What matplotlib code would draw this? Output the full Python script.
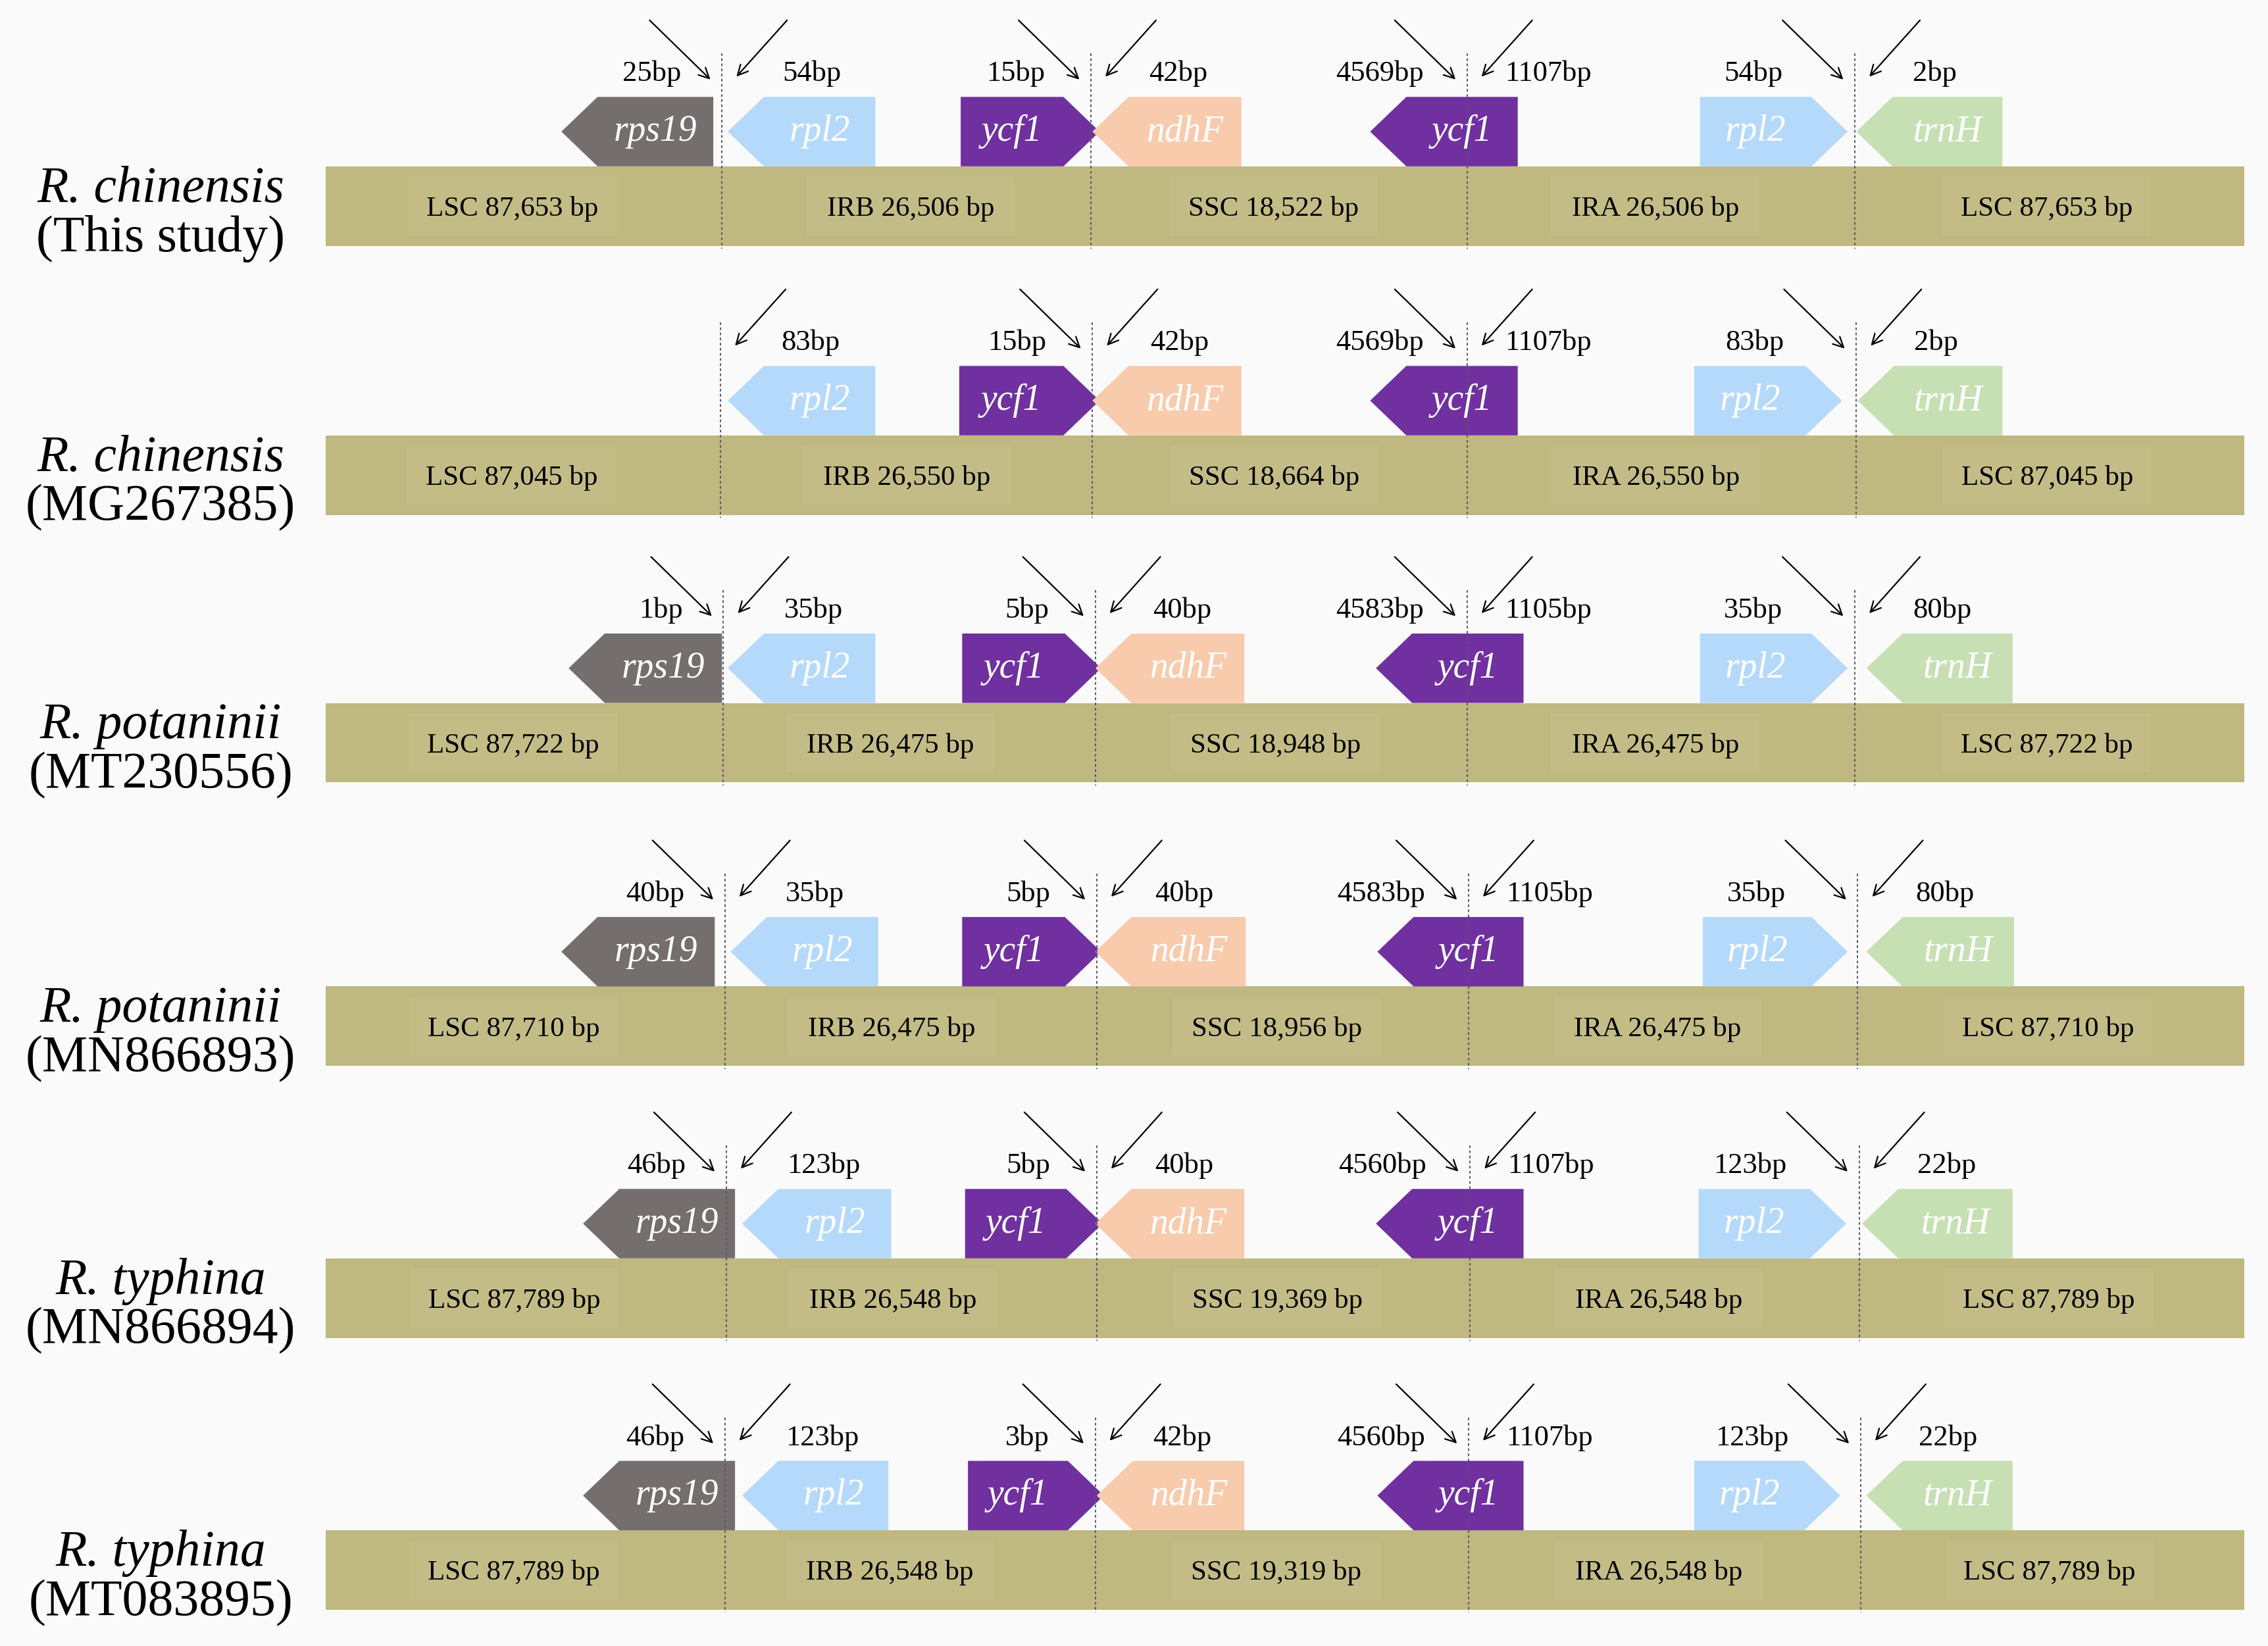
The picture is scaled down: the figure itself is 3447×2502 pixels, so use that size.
import matplotlib.pyplot as plt
from matplotlib.patches import Polygon, Rectangle

plt.rcParams['font.family'] = ['Liberation Serif', 'DejaVu Serif']

# ---- data (canvas units: 1568 x 1138) ----
species = ['R. chinensis', 'R. chinensis', 'R. potaninii',
           'R. potaninii', 'R. typhina', 'R. typhina']
accessions = ['(This study)', '(MG267385)', '(MT230556)',
              '(MN866893)', '(MN866894)', '(MT083895)']

region_names = ['LSC', 'IRB', 'SSC', 'IRA', 'LSC']
region_sizes = [
    ['87,653', '26,506', '18,522', '26,506', '87,653'],
    ['87,045', '26,550', '18,664', '26,550', '87,045'],
    ['87,722', '26,475', '18,948', '26,475', '87,722'],
    ['87,710', '26,475', '18,956', '26,475', '87,710'],
    ['87,789', '26,548', '19,369', '26,548', '87,789'],
    ['87,789', '26,548', '19,319', '26,548', '87,789'],
]

# junction positions JLB, JSB, JSA, JLA
junctions = [
    [499, 754, 1014, 1282],
    [498, 755, 1014, 1283],
    [500, 757, 1014, 1282],
    [501, 758, 1015, 1284],
    [502, 758, 1016, 1285],
    [501, 757, 1015, 1286],
]

# distances at each junction: (left, right)
bp_labels = [
    [('25bp', '54bp'), ('15bp', '42bp'), ('4569bp', '1107bp'), ('54bp', '2bp')],
    [(None, '83bp'), ('15bp', '42bp'), ('4569bp', '1107bp'), ('83bp', '2bp')],
    [('1bp', '35bp'), ('5bp', '40bp'), ('4583bp', '1105bp'), ('35bp', '80bp')],
    [('40bp', '35bp'), ('5bp', '40bp'), ('4583bp', '1105bp'), ('35bp', '80bp')],
    [('46bp', '123bp'), ('5bp', '40bp'), ('4560bp', '1107bp'), ('123bp', '22bp')],
    [('46bp', '123bp'), ('3bp', '42bp'), ('4560bp', '1107bp'), ('123bp', '22bp')],
]

# genes: (name, start, end, pointing side)
genes = [
    [('rps19', 388, 493, 'L'), ('rpl2', 503, 605, 'L'), ('ycf1', 664, 760, 'R'),
     ('ndhF', 755, 858, 'L'), ('ycf1', 947, 1049, 'L'), ('rpl2', 1175, 1277, 'R'),
     ('trnH', 1283, 1384, 'L')],
    [('rpl2', 503, 605, 'L'), ('ycf1', 663, 760, 'R'),
     ('ndhF', 755, 858, 'L'), ('ycf1', 947, 1049, 'L'), ('rpl2', 1171, 1273, 'R'),
     ('trnH', 1284, 1384, 'L')],
    [('rps19', 393, 499, 'L'), ('rpl2', 503, 605, 'L'), ('ycf1', 665, 761, 'R'),
     ('ndhF', 757, 860, 'L'), ('ycf1', 951, 1053, 'L'), ('rpl2', 1175, 1277, 'R'),
     ('trnH', 1290, 1391, 'L')],
    [('rps19', 388, 494, 'L'), ('rpl2', 505, 607, 'L'), ('ycf1', 665, 761, 'R'),
     ('ndhF', 757, 861, 'L'), ('ycf1', 952, 1053, 'L'), ('rpl2', 1177, 1277, 'R'),
     ('trnH', 1290, 1392, 'L')],
    [('rps19', 403, 508, 'L'), ('rpl2', 513, 616, 'L'), ('ycf1', 667, 762, 'R'),
     ('ndhF', 757, 860, 'L'), ('ycf1', 951, 1053, 'L'), ('rpl2', 1174, 1276, 'R'),
     ('trnH', 1287, 1391, 'L')],
    [('rps19', 403, 508, 'L'), ('rpl2', 513, 614, 'L'), ('ycf1', 669, 763, 'R'),
     ('ndhF', 758, 860, 'L'), ('ycf1', 952, 1053, 'L'), ('rpl2', 1171, 1272, 'R'),
     ('trnH', 1290, 1391, 'L')],
]

bar_tops = [115, 301, 486, 682, 870, 1058]

# ---- styles ----
gene_colors = {'rps19': '#746e6e', 'rpl2': '#b5d9fb', 'ycf1': '#7030a0',
               'ndhF': '#f8cbad', 'trnH': '#c6e0b4'}
bar_color = '#bfb880'
box_color = '#c3bc87'
bar_left, bar_right, bar_h = 225, 1551, 55
gene_h = 48
tip = 25
left_off = [-28, -32, -30, -50]
right_off = [42, 40, 26, 40]
# nudges of region captions from the middle of each region
label_nudge = [-8, 0, -4, -4, -2]
irb_nudge = [3, 0, -13, -13, -13, -14]


def region_centers(j):
    edges = [bar_left] + list(j) + [bar_right]
    return [(edges[k] + edges[k + 1]) / 2 for k in range(5)]


fig = plt.figure(figsize=(17.24, 12.51), dpi=200)
fig.patch.set_facecolor('#fafafa')
ax = fig.add_axes([0, 0, 1, 1])
ax.set_xlim(0, 1568)
ax.set_ylim(1138, 0)
ax.axis('off')

for r in range(6):
    top = bar_tops[r]
    gtop = top - gene_h
    j = junctions[r]

    # species label
    ax.text(111, top + 16, species[r], ha='center', va='center',
            fontsize=28, style='italic')
    ax.text(111, top + 50, accessions[r], ha='center', va='center',
            fontsize=28)

    # genome bar
    ax.add_patch(Rectangle((bar_left, top), bar_right - bar_left, bar_h,
                           facecolor=bar_color, edgecolor='none'))
    centers = region_centers(j)
    for k in range(5):
        cx = centers[k] + label_nudge[k] + (irb_nudge[r] if k == 1 else 0)
        ax.add_patch(Rectangle((cx - 72, top + 7), 144, bar_h - 14,
                               facecolor=box_color, edgecolor='none'))
        ax.text(cx, top + bar_h / 2 + 2,
                f'{region_names[k]} {region_sizes[r][k]} bp',
                ha='center', va='center', fontsize=15.5)

    # genes
    for name, x0, x1, side in genes[r]:
        ym = gtop + gene_h / 2
        if side == 'L':
            pts = [(x0, ym), (x0 + tip, gtop), (x1, gtop), (x1, top), (x0 + tip, top)]
            cx = (x0 + tip + x1) / 2
        else:
            pts = [(x0, gtop), (x1 - tip, gtop), (x1, ym), (x1 - tip, top), (x0, top)]
            cx = (x0 + x1 - tip) / 2
        ax.add_patch(Polygon(pts, closed=True, facecolor=gene_colors[name],
                             edgecolor='none'))
        ax.text(cx, ym, name, ha='center', va='center', color='white',
                fontsize=20, style='italic')

    # junction lines, arrows and distances
    ly = gtop - 16
    for k in range(4):
        x = j[k]
        ax.plot([x, x], [gtop - 30, top + bar_h + 2], color='#555566',
                lw=0.7, ls=(0, (2, 2)))
        left, right = bp_labels[r][k]
        if left is not None:
            ax.annotate('', xy=(x - 8, gtop - 12), xytext=(x - 50, gtop - 53),
                        arrowprops=dict(arrowstyle='->', lw=0.8, color='black',
                                        mutation_scale=14, shrinkA=0, shrinkB=0))
            ax.text(x + left_off[k], ly, left, ha='right', va='center',
                    fontsize=16)
        if right is not None:
            ax.annotate('', xy=(x + 10, gtop - 14), xytext=(x + 45, gtop - 53),
                        arrowprops=dict(arrowstyle='->', lw=0.8, color='black',
                                        mutation_scale=14, shrinkA=0, shrinkB=0))
            ax.text(x + right_off[k], ly, right, ha='left', va='center',
                    fontsize=16)

fig.savefig('out.png', dpi=200, facecolor=fig.get_facecolor())
